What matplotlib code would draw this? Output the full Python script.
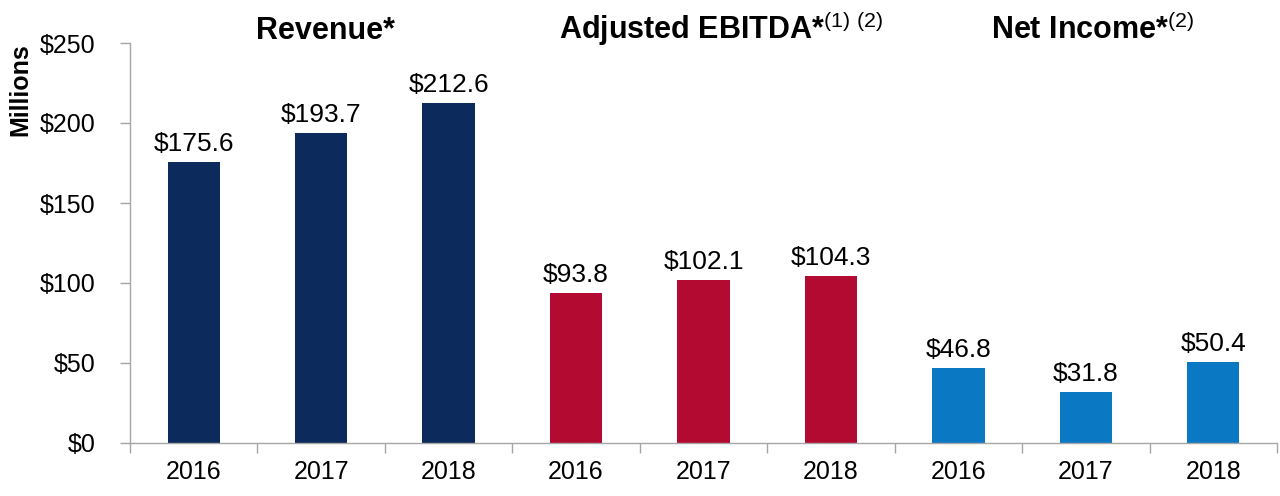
import numpy as np
import matplotlib
matplotlib.use('Agg')
from matplotlib import pyplot as plt

plt.rcParams['font.family'] = ['Liberation Sans', 'DejaVu Sans']
plt.rcParams['mathtext.fontset'] = 'custom'
plt.rcParams['mathtext.rm'] = 'Liberation Sans'
plt.rcParams['mathtext.bf'] = 'Liberation Sans:bold'

# data
groups = ['Revenue*', 'Adjusted EBITDA*', 'Net Income*']
group_sup = ['', '(1) (2)', '(2)']
years = ['2016', '2017', '2018']
revenue = [175.6, 193.7, 212.6]
adj_ebitda = [93.8, 102.1, 104.3]
net_income = [46.8, 31.8, 50.4]
colors = ['#0c2a5b', '#b20a30', '#0a78c2']


def main():
    fig = plt.figure(figsize=(12.8, 4.96), dpi=100)
    ax = fig.add_axes([130 / 1280, 1 - 443 / 496, 1147 / 1280, 400 / 496])

    series = [revenue, adj_ebitda, net_income]
    labels = []
    for g, vals in enumerate(series):
        x = np.arange(len(vals)) + g * len(years)
        bars = ax.bar(x, vals, width=0.41, color=colors[g], zorder=2)
        for b, v in zip(bars, vals):
            ax.annotate('${:.1f}'.format(v),
                        (b.get_x() + b.get_width() / 2, v),
                        xytext=(0, 8), textcoords='offset points',
                        ha='center', va='baseline', fontsize=19)
        labels += years

    n = len(labels)
    ax.set_xlim(-0.5, n - 0.5)
    ax.set_ylim(0, 250)
    ax.set_yticks(np.arange(0, 251, 50))
    ax.set_yticklabels(['${}'.format(v) for v in range(0, 251, 50)], fontsize=18)
    ax.set_xticks(np.arange(n))
    ax.set_xticklabels(labels, fontsize=18)
    ax.set_xticks(np.arange(n + 1) - 0.5, minor=True)
    ax.tick_params(axis='x', which='major', length=0, pad=12)
    ax.tick_params(axis='x', which='minor', length=7, color='#a6a6a6', width=1)
    ax.tick_params(axis='y', length=7, color='#a6a6a6', width=1, pad=18)

    for s in ['top', 'right']:
        ax.spines[s].set_visible(False)
    for s in ['left', 'bottom']:
        ax.spines[s].set_color('#a6a6a6')
        ax.spines[s].set_linewidth(1)

    fig.text(20 / 1280, 1 - 90 / 496, 'Millions', rotation=90,
             ha='center', va='center', fontsize=18, fontweight='bold')

    # group titles, superscripts in regular weight
    shifts = [0.03, 0.14, 0.05]
    for g, name in enumerate(groups):
        xc = g * len(years) + 1 + shifts[g]
        sup = group_sup[g]
        txt = name
        if sup:
            txt += r'$^{\mathrm{' + sup.replace(' ', r'\ ') + '}}$'
        ax.annotate(txt, (xc, 1), xycoords=('data', 'axes fraction'),
                    xytext=(0, 3), textcoords='offset points',
                    ha='center', va='baseline', fontsize=22, fontweight='bold')

    plt.savefig('out.png')


if __name__ == '__main__':
    main()
